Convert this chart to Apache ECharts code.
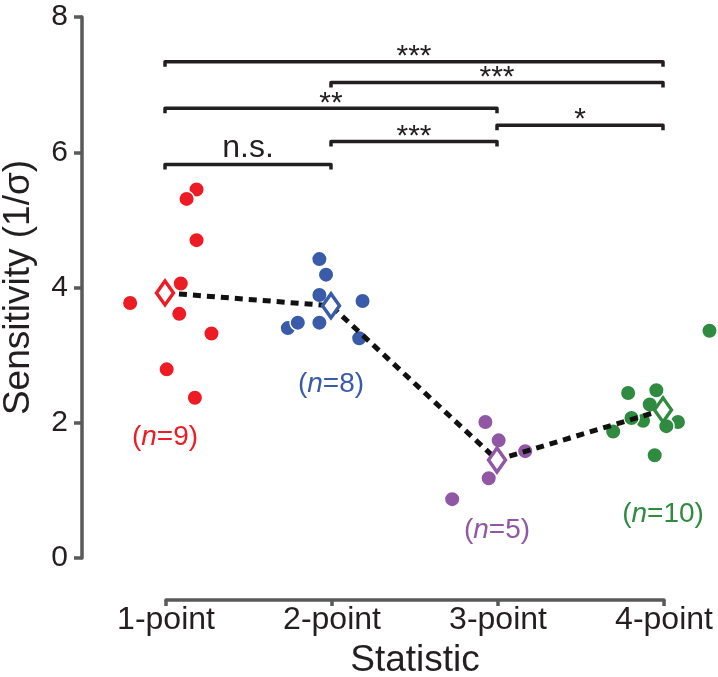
<!DOCTYPE html>
<html>
<head>
<meta charset="utf-8">
<script src="https://cdn.jsdelivr.net/npm/echarts@6/dist/echarts.min.js"></script>
<style>
html,body{margin:0;padding:0;background:#fff;}
#main{width:718px;height:677px;}
</style>
</head>
<body>
<div id="main"></div>
<script>
// ---- data ----
const categories = ['1-point', '2-point', '3-point', '4-point'];
const groupColors = ['#ed1c24', '#3a5ba9', '#9057a5', '#2e8b3f'];

// sensitivity values and horizontal jitter (in category units) for each group
const onePointY = [5.45, 5.31, 4.70, 4.06, 3.77, 3.61, 3.32, 2.79, 2.37];
const onePointJitter = [0.19, 0.13, 0.19, 0.095, -0.21, 0.086, 0.28, 0.01, 0.18];
const twoPointY = [4.42, 4.19, 3.89, 3.80, 3.40, 3.48, 3.48, 3.25];
const twoPointJitter = [-0.07, -0.03, -0.07, 0.19, -0.26, -0.20, -0.07, 0.17];
const threePointY = [2.01, 1.74, 1.58, 1.18, 0.87];
const threePointJitter = [-0.07, 0.01, 0.17, -0.05, -0.27];
const fourPointY = [3.36, 2.44, 2.48, 2.03, 2.01, 2.27, 2.07, 1.95, 1.87, 1.52];
const fourPointJitter = [0.28, -0.21, -0.04, -0.12, 0.09, -0.08, -0.19, 0.02, -0.30, -0.05];

const groupMeans = [3.92, 3.73, 1.45, 2.19];
const groupCounts = [9, 8, 5, 10];
const countLabelY = [1.79, 2.57, 0.41, 0.65];

const bracketFrom = [0, 1, 0, 2, 1, 0];
const bracketTo = [3, 3, 2, 3, 2, 1];
const bracketLevel = [7.34, 7.03, 6.65, 6.40, 6.16, 5.82];
const bracketLabels = ['***', '***', '**', '*', '***', 'n.s.'];

const yTicks = [0, 2, 4, 6, 8];

// ---- build ----
const groupsY = [onePointY, twoPointY, threePointY, fourPointY];
const groupsJ = [onePointJitter, twoPointJitter, threePointJitter, fourPointJitter];

const FONT = '"Liberation Sans", Arial, Helvetica, sans-serif';
const AXIS_COLOR = '#58595b';
const TEXT_COLOR = '#231f20';

const chart = echarts.init(document.getElementById('main'), null, {renderer: 'canvas'});

const series = [];

// significance brackets
series.push({
  type: 'custom',
  xAxisIndex: 0, yAxisIndex: 0,
  silent: true,
  clip: false,
  z: 5,
  data: bracketFrom.map((f, i) => [f, bracketTo[i], bracketLevel[i]]),
  renderItem: function (params, api) {
    const i = params.dataIndex;
    const a = api.coord([api.value(0), api.value(2)]);
    const b = api.coord([api.value(1), api.value(2)]);
    const lbl = bracketLabels[i];
    const isNS = lbl === 'n.s.';
    return {
      type: 'group',
      children: [
        {
          type: 'polyline',
          shape: {points: [[a[0], a[1] + 5], [a[0], a[1]], [b[0], b[1]], [b[0], b[1] + 5]]},
          style: {stroke: TEXT_COLOR, lineWidth: 3.5, fill: null, lineJoin: 'round', lineCap: 'butt'}
        },
        {
          type: 'text',
          style: {
            text: lbl,
            x: (a[0] + b[0]) / 2,
            y: isNS ? a[1] + 0 : a[1] + 10,
            align: 'center',
            verticalAlign: 'bottom',
            font: (isNS ? '32px ' : '30px ') + FONT,
            fill: TEXT_COLOR
          }
        }
      ]
    };
  }
});

// individual points
groupsY.forEach((ys, g) => {
  series.push({
    type: 'scatter',
    xAxisIndex: 0, yAxisIndex: 0,
    symbol: 'circle',
    symbolSize: 15.5,
    clip: false,
    z: 2,
    itemStyle: {color: groupColors[g], borderColor: '#ffffff', borderWidth: 1.5, opacity: 1},
    emphasis: {disabled: true},
    data: ys.map((y, k) => [g + groupsJ[g][k], y])
  });
});

// dashed line through means
series.push({
  type: 'line',
  xAxisIndex: 0, yAxisIndex: 0,
  data: groupMeans.map((m, g) => [g, m]),
  showSymbol: false,
  symbol: 'none',
  z: 3,
  lineStyle: {color: '#111111', width: 5, type: [8, 6]},
  emphasis: {disabled: true}
});

// mean diamonds
series.push({
  type: 'scatter',
  xAxisIndex: 0, yAxisIndex: 0,
  symbol: 'diamond',
  symbolSize: [17, 24],
  z: 4,
  clip: false,
  itemStyle: {opacity: 1},
  emphasis: {disabled: true},
  data: groupMeans.map((m, g) => ({
    value: [g, m],
    itemStyle: {color: '#ffffff', borderColor: groupColors[g], borderWidth: 3.5, opacity: 1}
  }))
});

// (n=..) labels
series.push({
  type: 'scatter',
  xAxisIndex: 0, yAxisIndex: 0,
  symbolSize: 0,
  clip: false,
  z: 6,
  silent: true,
  itemStyle: {opacity: 1},
  data: groupCounts.map((n, g) => ({
    value: [g, countLabelY[g]],
    label: {
      show: true,
      position: 'inside',
      formatter: '{p|(}{i|n}{p|=' + n + ')}',
      rich: {
        p: {fontFamily: FONT, fontSize: 28, color: groupColors[g], opacity: 1},
        i: {fontFamily: FONT, fontSize: 28, fontStyle: 'italic', color: groupColors[g], opacity: 1}
      }
    }
  }))
});

const option = {
  backgroundColor: '#ffffff',
  animation: false,
  grid: [
    {left: 82, right: 13.5, top: 17, bottom: 119, containLabel: false, outerBoundsMode: 'none'},
    {left: 166, right: 54, top: 17, bottom: 77, containLabel: false, outerBoundsMode: 'none'}
  ],
  xAxis: [
    {type: 'value', gridIndex: 0, min: -0.5, max: 3.25, show: false},
    {
      type: 'category', gridIndex: 1, data: categories, boundaryGap: false,
      position: 'bottom',
      axisLine: {show: true, onZero: false, lineStyle: {color: AXIS_COLOR, width: 3.5}},
      axisTick: {show: true, length: 6, lineStyle: {color: AXIS_COLOR, width: 3.5}},
      axisLabel: {fontFamily: FONT, fontSize: 32, color: TEXT_COLOR, margin: 4},
      name: 'Statistic',
      nameLocation: 'middle',
      nameGap: 42,
      nameTextStyle: {fontFamily: FONT, fontSize: 37, color: TEXT_COLOR, verticalAlign: 'top'},
      splitLine: {show: false}
    }
  ],
  yAxis: [
    {
      type: 'value', gridIndex: 0, min: 0, max: 8, interval: 2,
      axisLine: {show: true, onZero: false, lineStyle: {color: AXIS_COLOR, width: 3.5}},
      axisTick: {show: true, length: 8, lineStyle: {color: AXIS_COLOR, width: 3.5}},
      axisLabel: {fontFamily: FONT, fontSize: 30, color: TEXT_COLOR, margin: 14,
        customValues: yTicks},
      splitLine: {show: false},
      name: 'Sensitivity (1/σ)',
      nameLocation: 'middle',
      nameGap: 45,
      nameTextStyle: {fontFamily: FONT, fontSize: 37, color: TEXT_COLOR}
    },
    {type: 'value', gridIndex: 1, show: false}
  ],
  series: series
};

chart.setOption(option);
</script>
</body>
</html>
